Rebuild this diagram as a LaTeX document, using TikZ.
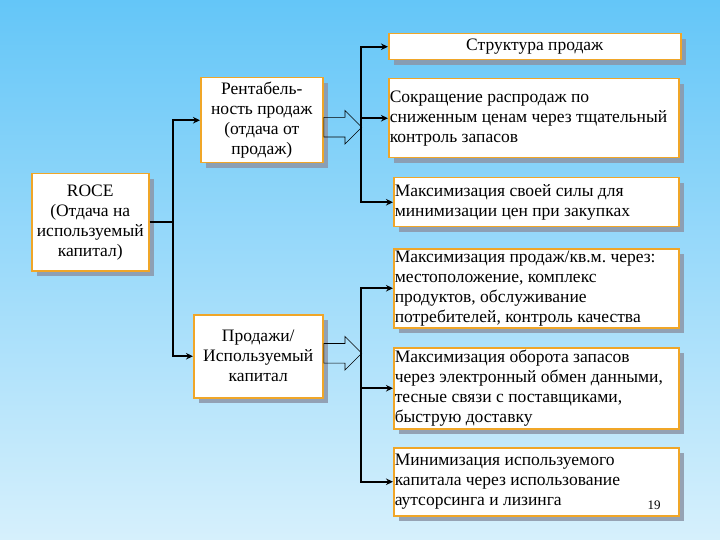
\documentclass[tikz,border=0pt]{standalone}
\usepackage{fontspec}
\setmainfont{Liberation Serif}
\usepackage{xcolor}
\usepackage{tikz}
\usetikzlibrary{arrows.meta,positioning,shapes.arrows,shadows,calc}
\frenchspacing

\definecolor{boxorange}{RGB}{240,166,40}
\definecolor{bgtop}{RGB}{100,198,248}
\definecolor{bgbot}{RGB}{214,240,252}
\definecolor{shadowgray}{RGB}{140,150,168}

\begin{document}
\begin{tikzpicture}[x=1pt, y=-1pt,
  box/.style    = {rectangle, draw=boxorange, line width=1.5pt, fill=white,
                   drop shadow={shadow xshift=5pt, shadow yshift=-5pt,
                                fill=shadowgray, opacity=0.85},
                   font=\fontsize{17.5}{20}\selectfont, inner sep=1pt,
                   anchor=north west},
  cbox/.style   = {box, align=center},
  lbox/.style   = {box, align=flush left},
  arr/.style    = {-{Stealth[length=7pt,width=6.5pt]}, line width=2.2pt},
  bus/.style    = {line width=2.2pt},
  barrow/.style = {single arrow, draw, line width=0.6pt,
                   minimum height=38pt, single arrow head extend=7pt,
                   inner xsep=0pt, inner ysep=9.5pt, anchor=tail}
]

% background
\shade[top color=bgtop, bottom color=bgbot] (0,0) rectangle (720,540);
\useasboundingbox (0,0) rectangle (720,540);

% left column
\node[cbox, minimum width=117pt, minimum height=97pt] (roce) at (31,173)
      {ROCE\\(Отдача на\\используемый\\капитал)};

% middle column
\node[cbox, minimum width=122pt, minimum height=85pt] (rent) at (200,77)
      {Рентабель-\\ность продаж\\(отдача от\\продаж)};
\node[cbox, minimum width=129pt, minimum height=83pt] (sales) at (193,314)
      {Продажи/\\Используемый\\капитал};

% right column, upper group
\node[cbox, minimum width=292pt, minimum height=26pt] (struct) at (388,33)
      {Структура продаж};
\node[lbox, text width=288pt, minimum height=79pt] (cut) at (388,78)
      {Сокращение распродаж по\\сниженным ценам через тщательный\\контроль запасов};
\node[lbox, text width=283pt, minimum height=49pt] (power) at (393,177)
      {Максимизация своей силы для\\минимизации цен при закупках};

% right column, lower group
\node[lbox, text width=283pt, minimum height=79pt] (sqm) at (393,248)
      {Максимизация продаж/кв.м. через:\\местоположение, комплекс\\продуктов, обслуживание\\потребителей, контроль качества};
\node[lbox, text width=283pt, minimum height=81pt] (turn) at (393,347)
      {Максимизация оборота запасов\\через электронный обмен данными,\\тесные связи с поставщиками,\\быструю доставку};
\node[lbox, text width=283pt, minimum height=68pt] (minc) at (393,447)
      {Минимизация используемого\\капитала через использование\\аутсорсинга и лизинга};

\node[font=\fontsize{13}{15}\selectfont] (pagenum) at (654,505) {19};

% bus lines
\coordinate (leftbus) at (173,0);
\coordinate (upbus)   at (361,0);
\coordinate (lowbus)  at (361,0);

% ROCE -> middle column
\draw[bus] (roce.east) -- (leftbus |- roce.east);
\draw[arr] (leftbus |- sales.west) |- (rent.west);
\draw[arr] (leftbus |- rent.west)  |- (sales.west);

% block arrows
\node[barrow] (rentarr)  at ([yshift=-7pt]rent.east)  {};
\node[barrow] (salesarr) at ([yshift=3pt]sales.east) {};

% upper group
\draw[arr] (upbus |- power.west)  |- (struct.west);
\draw[arr] (upbus |- struct.west) |- (power.west);
\draw[arr] (upbus |- cut.west)    -- (cut.west);

% lower group
\draw[arr] (lowbus |- minc.west) |- (sqm.west);
\draw[arr] (lowbus |- sqm.west)  |- (minc.west);
\draw[arr] (lowbus |- turn.west) -- (turn.west);

\end{tikzpicture}
\end{document}
